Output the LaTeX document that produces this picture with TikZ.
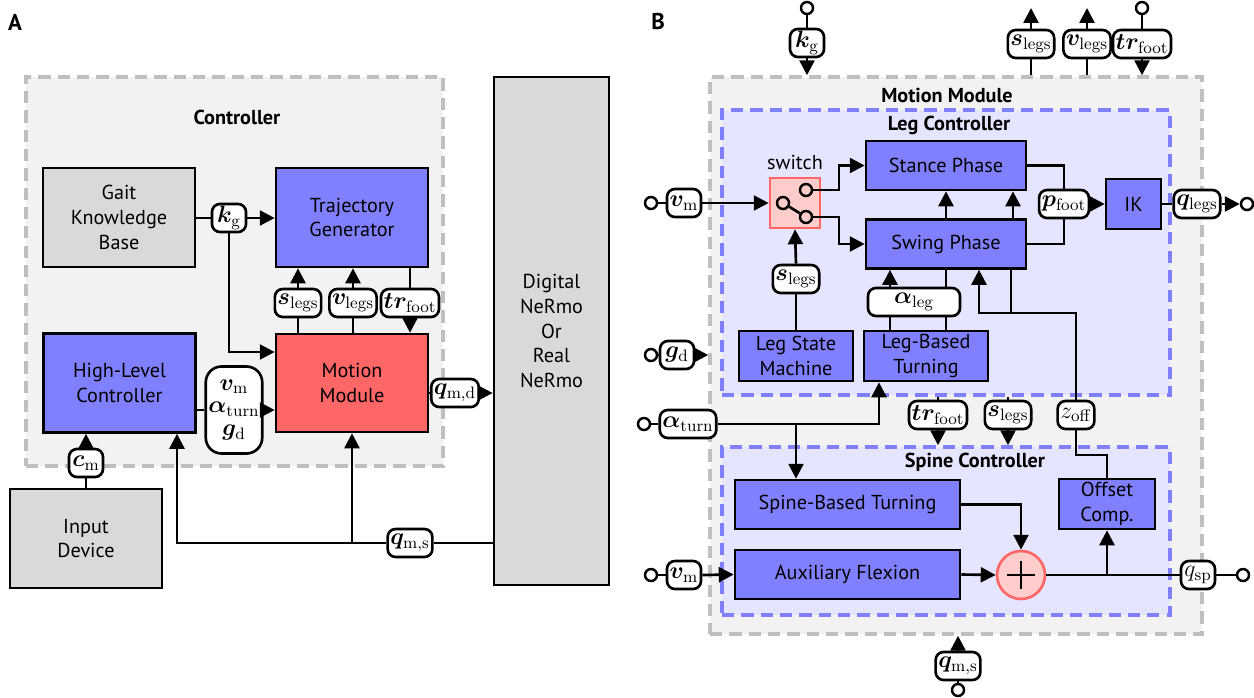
\RequirePackage{fix-cm}
\documentclass[tikz,border=0pt]{standalone}
\usepackage[no-math]{fontspec}
\setmainfont{PT Sans}
\usepackage{bm}
\usetikzlibrary{arrows.meta}

\definecolor{blkblue}{RGB}{128,128,255}
\definecolor{blkred}{RGB}{255,102,102}
\definecolor{blkgray}{RGB}{217,217,217}
\definecolor{grpgray}{RGB}{242,242,242}
\definecolor{grpline}{RGB}{191,191,191}
\definecolor{grpblue}{RGB}{229,229,255}
\definecolor{swpink}{RGB}{255,204,204}

\begin{document}
\begin{tikzpicture}[x=0.02cm, y=-0.02cm,
  txt/.style={font=\fontsize{11.5}{14}\selectfont},
  sz/.style 2 args={minimum width=#1*0.02cm, minimum height=#2*0.02cm},
  blk/.style={draw, line width=1.5pt, inner sep=0pt, align=center, txt},
  grp/.style={line width=2pt, dash pattern=on 7pt off 4pt, inner sep=0pt},
  ttl/.style={font=\fontsize{11.5}{14}\selectfont\bfseries},
  panel/.style={font=\fontsize{13}{15}\selectfont\bfseries},
  sig/.style={draw, fill=white, line width=1.5pt, rounded corners=4.5pt, inner xsep=1.5pt, inner ysep=0pt,
    minimum height=28*0.02cm, minimum width=34*0.02cm, align=center, font=\fontsize{13.5}{14}\selectfont},
  term/.style={circle, draw, fill=white, line width=1.4pt, inner sep=0pt, minimum size=12*0.02cm},
  wire/.style={line width=1.5pt},
  arr/.style={wire, -{Triangle[length=8.5pt, width=8.5pt]}},
]
\useasboundingbox (0,0) rectangle (1254,697);

% panel A
\node[panel] (labA) at (15,22) {A};
\node[grp, draw=grpline, fill=grpgray, sz={417}{389}] (ctrl) at (234.5,271.5) {};
\node[ttl] (ctrlT) at (237,117) {Controller};
\node[blk, fill=blkgray, sz={152}{99}] (gkb) at (119,217.5) {Gait\\Knowledge\\Base};
\node[blk, fill=blkblue, sz={152}{99}] (tg) at (352,217.5) {Trajectory\\Generator};
\node[blk, fill=blkblue, sz={152}{99}] (hlc) at (119.5,383) {High-Level\\Controller};
\node[blk, fill=blkred, sz={152}{98}] (mmA) at (352,383) {Motion\\Module};
\node[blk, fill=blkgray, sz={152}{99}] (inp) at (86,538.5) {Input\\Device};
\node[blk, fill=blkgray, sz={115}{508}] (dig) at (551.5,331) {Digital\\NeRmo\\Or\\Real\\NeRmo};

\node[sig] (kgA) at (229,218) {$\bm{k}_{\mathrm{g}}$};
\node[sig] (slA) at (298,303) {$\bm{s}_{\mathrm{legs}}$};
\node[sig] (vlA) at (353,303) {$\bm{v}_{\mathrm{legs}}$};
\node[sig] (trA) at (410,303) {$\bm{tr}_{\mathrm{foot}}$};
\node[sig, sz={53}{87}, rounded corners=9pt] (inA) at (234,410)
  {$\bm{v}_{\mathrm{m}}$\\[-1pt]$\bm{\alpha}_{\mathrm{turn}}$\\[-1pt]$\bm{g}_{\mathrm{d}}$};
\node[sig] (qmdA) at (455,393) {$\bm{q}_{\mathrm{m,d}}$};
\node[sig] (cmA) at (86,463) {$\bm{c}_{\mathrm{m}}$};
\node[sig] (qmsA) at (410,543) {$\bm{q}_{\mathrm{m,s}}$};
\coordinate (kgJ) at (229,352);
\coordinate (fbA) at (177,543);

\draw[wire] (gkb.east |- kgA) -- (kgA.west);
\draw[arr] (kgA.east) -- (tg.west |- kgA);
\draw[arr] (kgA.south) -- (kgJ) -- (mmA.west |- kgJ);
\draw[wire] (mmA.north -| slA) -- (slA.south);
\draw[arr] (slA.north) -- (tg.south -| slA);
\draw[wire] (mmA.north -| vlA) -- (vlA.south);
\draw[arr] (vlA.north) -- (tg.south -| vlA);
\draw[wire] (tg.south -| trA) -- (trA.north);
\draw[arr] (trA.south) -- (mmA.north -| trA);
\draw[wire] (hlc.east |- inA) -- (inA.west);
\draw[arr] (inA.east) -- (mmA.west |- inA);
\draw[wire] (mmA.east |- qmdA) -- (qmdA.west);
\draw[arr] (qmdA.east) -- (dig.west |- qmdA);
\draw[wire] (inp.north) -- (cmA.south);
\draw[arr] (cmA.north) -- (hlc.south -| cmA);
\draw[wire] (dig.west |- qmsA) -- (qmsA.east);
\draw[arr] (qmsA.west) -- (fbA) -- (hlc.south -| fbA);
\draw[arr] (mmA.south |- qmsA) -- (mmA.south);

% panel B
\node[panel] (labB) at (658,22) {B};
\node[grp, draw=grpline, fill=grpgray, sz={492}{557}] (mmB) at (956,355.5) {};
\node[ttl] (mmT) at (947,95) {Motion Module};
\node[grp, draw=blkblue, fill=grpblue, sz={448}{285}] (legC) at (946,252.5) {};
\node[ttl] (legT) at (949,125) {Leg Controller};
\node[grp, draw=blkblue, fill=grpblue, sz={448}{168}] (spC) at (946,531) {};
\node[ttl] (spT) at (975,462) {Spine Controller};

\node[term] (tkg) at (807,8) {};
\node[sig] (kgB) at (807,43) {$\bm{k}_{\mathrm{g}}$};
\node[sig] (slB) at (1031,44) {$\bm{s}_{\mathrm{legs}}$};
\node[sig] (vlB) at (1087,44) {$\bm{v}_{\mathrm{legs}}$};
\node[term] (ttr) at (1142,8) {};
\node[sig] (trB) at (1142,44) {$\bm{tr}_{\mathrm{foot}}$};
\coordinate (slO) at (1031,8);
\coordinate (vlO) at (1087,8);
\draw[wire] (tkg) -- (kgB.north);
\draw[arr] (kgB.south) -- (mmB.north -| kgB);
\draw[wire] (mmB.north -| slB) -- (slB.south);
\draw[arr] (slB.north) -- (slO);
\draw[wire] (mmB.north -| vlB) -- (vlB.south);
\draw[arr] (vlB.north) -- (vlO);
\draw[wire] (ttr) -- (trB.north);
\draw[arr] (trB.south) -- (mmB.north -| trB);

\node[txt] (swT) at (795,162) {switch};
\node[draw=blkred, fill=swpink, line width=1.5pt, sz={50}{50}] (sw) at (795,203) {};
\node[term, fill=swpink] (swL) at (783,203) {};
\node[term, fill=swpink] (swU) at (806,190) {};
\node[term, fill=swpink] (swD) at (806,217) {};
\draw[wire] (swL) -- (swD);

\node[term] (tvm) at (651,203) {};
\node[sig] (vmB) at (684,203) {$\bm{v}_{\mathrm{m}}$};
\draw[wire] (tvm) -- (vmB.west);
\draw[arr] (vmB.east) -- (sw.west);

\node[blk, fill=blkblue, sz={160}{49}] (st) at (946,165.5) {Stance Phase};
\node[blk, fill=blkblue, sz={160}{49}] (sg) at (946,244) {Swing Phase};
\coordinate (swJ) at (839,203);
\draw[arr] (swU.east) -- (swU.east -| swJ) |- (st.west);
\draw[arr] (swD.east) -- (swD.east -| swJ) |- (sg.west);
\draw[arr] (sg.north) -- (st.south);
\draw[arr] ([xshift=1.34cm]sg.north) -- ([xshift=1.34cm]st.south);

\node[blk, fill=blkblue, sz={114}{50}] (lsm) at (796,356) {Leg State\\Machine};
\node[blk, fill=blkblue, sz={124}{50}] (lbt) at (926,356) {Leg-Based\\Turning};
\node[sig] (slIn) at (796,279) {$\bm{s}_{\mathrm{legs}}$};
\draw[wire] (lsm.north) -- (slIn.south);
\draw[arr] (slIn.north) -- (sw.south);
\coordinate (aL) at (890,302);
\coordinate (aR) at (946,302);
\node[sig, minimum width=92*0.02cm] (alg) at (914,302) {$\bm{\alpha}_{\mathrm{leg}}$};
\draw[wire] (lbt.north -| aL) -- (alg.south -| aL);
\draw[arr] (alg.north -| aL) -- (sg.south -| aL);
\draw[wire] (lbt.north -| aR) -- (alg.south -| aR);
\draw[wire] (alg.north -| aR) -- (sg.south -| aR);

\node[sig] (pf) at (1064,204) {$\bm{p}_{\mathrm{foot}}$};
\node[blk, fill=blkblue, sz={55}{50}] (ik) at (1133.5,204) {IK};
\node[sig] (ql) at (1197,204) {$\bm{q}_{\mathrm{legs}}$};
\node[term] (tql) at (1247,204) {};
\draw[wire] (st.east) -| (pf.north);
\draw[wire] (sg.east) -| (pf.south);
\draw[arr] (pf.east) -- (ik.west);
\draw[wire] (ik.east) -- (ql.west);
\draw[arr] (ql.east) -- (tql.west);

\node[term] (tgd) at (651,355) {};
\node[sig] (gdB) at (677,355) {$\bm{g}_{\mathrm{d}}$};
\draw[wire] (tgd) -- (gdB.west);
\draw[arr] (gdB.east) -- (mmB.west |- gdB);

\node[blk, fill=blkblue, sz={225}{49}] (sbt) at (847.5,504.5) {Spine-Based Turning};
\node[blk, fill=blkblue, sz={225}{49}] (af) at (847.5,574.5) {Auxiliary Flexion};
\node[blk, fill=blkblue, sz={96}{50}] (oc) at (1107,504) {Offset\\Comp.};

\node[term] (tat) at (644,424) {};
\node[sig] (atB) at (688,424) {$\bm{\alpha}_{\mathrm{turn}}$};
\coordinate (atJ) at (879,424);
\draw[wire] (tat) -- (atB.west);
\draw[arr] (atB.east) -- (atJ) -- (lbt.south -| atJ);
\draw[arr] (lsm.south |- atB) -- (lsm.south |- sbt.north);

\node[sig] (trM) at (938,415) {$\bm{tr}_{\mathrm{foot}}$};
\node[sig] (slM) at (1008,415) {$\bm{s}_{\mathrm{legs}}$};
\node[sig] (zoff) at (1076,415) {$z_{\mathrm{off}}$};
\draw[wire] (legC.south -| trM) -- (trM.north);
\draw[arr] (trM.south) -- (spC.north -| trM);
\draw[wire] (legC.south -| slM) -- (slM.north);
\draw[arr] (slM.south) -- (spC.north -| slM);
\coordinate (zJ) at (1076,313);
\coordinate (zK) at (1076,455);
\draw[arr] (zoff.north) -- (zJ) -| ([xshift=0.66cm]sg.south);
\draw[wire] ([xshift=1.3cm]sg.south) -- ([xshift=1.3cm]sg.south |- zJ);
\draw[wire] (zoff.south) -- (zK) -| (oc.north);

\node[circle, draw=blkred, fill=swpink, line width=1.5pt, inner sep=0pt, minimum size=48*0.02cm] (sum) at (1021,575) {};
\draw[wire] ([xshift=-0.28cm]sum.center) -- ([xshift=0.28cm]sum.center);
\draw[wire] ([yshift=-0.28cm]sum.center) -- ([yshift=0.28cm]sum.center);
\draw[arr] (sbt.east) -| (sum.north);
\draw[arr] (af.east) -- (sum.west);
\node[sig] (qsp) at (1198,575) {$q_{\mathrm{sp}}$};
\node[term] (tqsp) at (1243,575) {};
\draw[wire] (sum.east) -- (qsp.west);
\draw[wire] (qsp.east) -- (tqsp);
\draw[arr] (sum.east -| oc.south) -- (oc.south);

\node[term] (tvs) at (651,575) {};
\node[sig] (vmS) at (684,575) {$\bm{v}_{\mathrm{m}}$};
\draw[wire] (tvs) -- (vmS.west);
\draw[arr] (vmS.east) -- (af.west);

\node[sig] (qmB) at (958,666) {$\bm{q}_{\mathrm{m,s}}$};
\node[term] (tqm) at (958,690) {};
\draw[wire] (tqm) -- (qmB.south);
\draw[arr] (qmB.north) -- (mmB.south -| qmB);
\end{tikzpicture}
\end{document}
